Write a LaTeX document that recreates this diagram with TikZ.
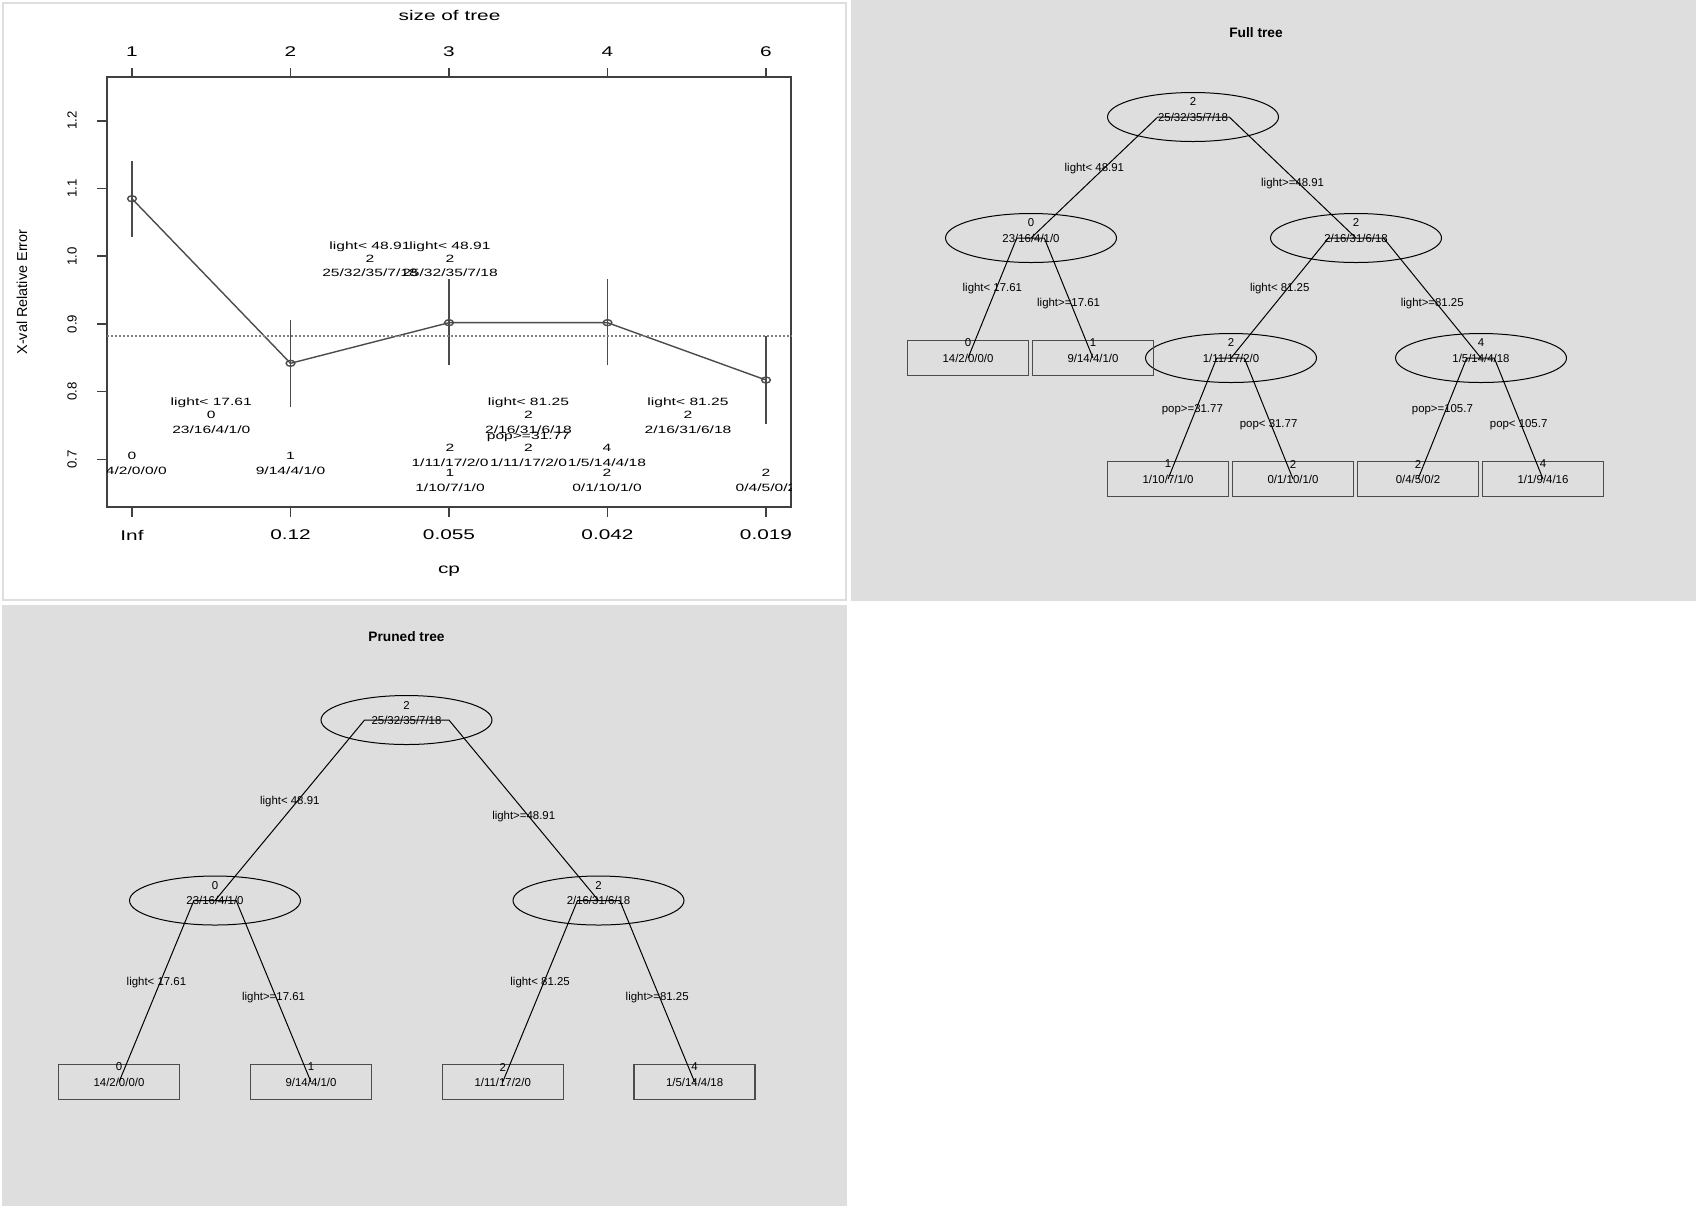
\documentclass[tikz,border=0pt]{standalone}
\usepackage{fontspec}
\setmainfont{Liberation Sans}
\newfontfamily\plotfont[FakeStretch=1.48]{Liberation Sans}
\usepackage{tikz}
\usetikzlibrary{shapes.geometric,calc}
\definecolor{panelGray}{RGB}{222,222,222}
\definecolor{axisGray}{RGB}{64,64,64}
\definecolor{curveGray}{RGB}{75,75,75}
\newcommand{\treesize}{\fontsize{6.5}{7.5}\selectfont}
\newcommand{\titlesize}{\fontsize{7.8}{9}\selectfont\bfseries}
\newcommand{\axissize}{\plotfont\fontsize{8}{9}\selectfont}
\newcommand{\cutsize}{\plotfont\fontsize{6}{7}\selectfont}
\tikzstyle{ovalnode}=[draw, ellipse, line width=0.2mm, minimum width=34.2mm, minimum height=9.8mm, inner sep=0pt, font=\treesize]
\tikzstyle{leafbox}=[draw=black!70, line width=0.25mm, minimum width=24.2mm, minimum height=6.9mm, inner sep=0pt, font=\treesize]
\tikzstyle{clslbl}=[inner sep=0pt, font=\treesize]
\tikzstyle{splitlbl}=[inner sep=0pt, font=\treesize]
\tikzstyle{branchline}=[line width=0.2mm]
\tikzstyle{paneltitle}=[inner sep=0pt, font=\titlesize]
\tikzstyle{axislbl}=[inner sep=0pt, font=\axissize]
\tikzstyle{ticklbl}=[inner sep=0pt, rotate=90, font=\fontsize{7.5}{9}\selectfont]
\tikzstyle{cuttxt}=[inner sep=0pt, font=\cutsize]
\tikzstyle{plotframe}=[draw=axisGray, line width=0.45mm]
\tikzstyle{tickline}=[axisGray, line width=0.3mm]
\tikzstyle{cvline}=[curveGray, line width=0.28mm]
\tikzstyle{errbar}=[curveGray, line width=0.32mm]
\tikzstyle{seline}=[gray, line width=0.25mm, dash pattern=on 0.3mm off 0.5mm]

% rpart branch: left son, up to parent level, across, down to right son
\newcommand{\rpbranch}[5]{%
  \path ($(#2)!0.39!(#3)$) coordinate (#1a)
        ($(#3)!0.39!(#2)$) coordinate (#1b);
  \draw[branchline] (#2.center) -- (#1a |- #1.center)
      node[midway, splitlbl, yshift=1.84mm] {#4}
    -- (#1b |- #1.center) -- (#3.center)
      node[midway, splitlbl, yshift=-1.18mm] {#5};
}

\begin{document}
\begin{tikzpicture}[x=0.2mm, y=-0.2mm]
  \useasboundingbox (0,0) rectangle (1698,1206);

  % Paineis
  \fill[panelGray] (851,0) rectangle (1696,600.7);
  \fill[panelGray] (2,604.7) rectangle (846.7,1206);
  \draw[panelGray, line width=0.4mm] (3,3) rectangle (845.7,599.7);

  % cp plot
  \node[axislbl] (cptitle) at (449.5,15.5) {size of tree};
  \node[axislbl] (cpxlab) at (449,570.7) {cp};
  \node[ticklbl, font=\fontsize{8.2}{9}\selectfont] (cpylab) at (22,292) {X-val Relative Error};
  \draw[plotframe] (107.3,77.3) rectangle (791.3,507.3);

  \begin{scope}[shift={(132,933.2)}, x=31.7mm, y=135.4mm]
    \foreach \szv/\cpv [count=\i from 0] in {1/Inf,2/0.12,3/0.055,4/0.042,6/0.019} {
      \draw[tickline] (\i,1.2643) -- ++(0,1.8mm);
      \draw[tickline] (\i,0.629) -- ++(0,-1.9mm);
      \node[axislbl, yshift=5.12mm] (sz\i) at (\i,1.2643) {\szv};
      \node[axislbl, yshift=-5.54mm] (cp\i) at (\i,0.629) {\cpv};
    }
    \foreach \v [count=\k] in {0.7,0.8,0.9,1.0,1.1,1.2} {
      \draw[tickline] (-0.156,\v) -- ++(-2mm,0);
      \node[ticklbl] (yt\k) at (-0.3785,\v) {\v};
    }
    % xerror com barras de +/- 1 xstd
    \draw[cvline] (0,1.0849) -- (1,0.8418) -- (2,0.9018) -- (3,0.9018) -- (4,0.8171);
    \foreach \i/\m/\lo/\hi in {0/1.0849/1.0288/1.1411, 1/0.8418/0.7768/0.9058,
        2/0.9018/0.8393/0.9659, 3/0.9018/0.8393/0.9659, 4/0.8171/0.7521/0.8821} {
      \draw[errbar] (\i,\lo) -- (\i,\hi);
      \draw[cvline] (\i,\m) ellipse [x radius=0.88mm, y radius=0.6mm];
    }
    \draw[seline] (-0.156,0.8821) -- (4.16,0.8821);
  \end{scope}

  % texto da arvore por cima do plot
  \begin{scope}
    \clip (107.3,77.3) rectangle (791.3,507.3);
    \foreach \t/\x/\y [count=\k] in {
        {light< 48.91}/370/246.7, {light< 48.91}/450/246.7,
        2/370/259, 2/450/259,
        {25/32/35/7/18}/370/272.7, {25/32/35/7/18}/450/272.7,
        {light< 17.61}/211.3/402.7, {light< 81.25}/528.5/402.7, {light< 81.25}/688/402.7,
        0/211.3/415, 2/528.5/415, 2/688/415,
        {23/16/4/1/0}/211.3/429.3, {2/16/31/6/18}/528.5/429.3, {2/16/31/6/18}/688/429.3,
        {pop>=31.77}/528.5/436.7,
        2/450/447.7, 2/528.5/447.7, 4/607/447.7,
        0/132/455.7, 1/290.5/455.7,
        {1/11/17/2/0}/450/462.3, {1/11/17/2/0}/528.5/462.3, {1/5/14/4/18}/607/462.3,
        {14/2/0/0/0}/132/470.7, {9/14/4/1/0}/290.5/470.7,
        1/450/473.3, 2/607/473.3, 2/766/473.3,
        {1/10/7/1/0}/450/487.3, {0/1/10/1/0}/607/487.3, {0/4/5/0/2}/766/487.3} {
      \node[cuttxt] (cut\k) at (\x,\y) {\t};
    }
  \end{scope}

  % Full tree
  \node[paneltitle] (fttitle) at (1256,33) {Full tree};
  \foreach \nm/\x/\y/\cls/\cnt in {ft1/1193/117/2/{25/32/35/7/18},
      ft2/1031/238/0/{23/16/4/1/0}, ft3/1356/238/2/{2/16/31/6/18},
      ft6/1231/358/2/{1/11/17/2/0}, ft7/1481/358/4/{1/5/14/4/18}} {
    \node[ovalnode] (\nm) at (\x,\y) {\cnt};
    \node[clslbl] (cls\nm) at (\x,\y-15) {\cls};
  }
  \foreach \nm/\x/\y/\cls/\cnt in {ft4/968/358/0/{14/2/0/0/0},
      ft5/1093/358/1/{9/14/4/1/0}, ft12/1168/479/1/{1/10/7/1/0},
      ft13/1293/479/2/{0/1/10/1/0}, ft14/1418/479/2/{0/4/5/0/2},
      ft15/1543/479/4/{1/1/9/4/16}} {
    \node[leafbox] (\nm) at (\x,\y) {\cnt};
    \node[clslbl] (cls\nm) at (\x,\y-15) {\cls};
  }
  \rpbranch{ft1}{ft2}{ft3}{light< 48.91}{light>=48.91}
  \rpbranch{ft2}{ft4}{ft5}{light< 17.61}{light>=17.61}
  \rpbranch{ft3}{ft6}{ft7}{light< 81.25}{light>=81.25}
  \rpbranch{ft6}{ft12}{ft13}{pop>=31.77}{pop< 31.77}
  \rpbranch{ft7}{ft14}{ft15}{pop>=105.7}{pop< 105.7}

  % Pruned tree
  \node[paneltitle] (pttitle) at (406.5,636.7) {Pruned tree};
  \foreach \nm/\x/\y/\cls/\cnt in {pt1/406.5/720/2/{25/32/35/7/18},
      pt2/215/900.5/0/{23/16/4/1/0}, pt3/598.5/900.5/2/{2/16/31/6/18}} {
    \node[ovalnode] (\nm) at (\x,\y) {\cnt};
    \node[clslbl] (cls\nm) at (\x,\y-15) {\cls};
  }
  \foreach \nm/\x/\y/\cls/\cnt in {pt4/119/1082/0/{14/2/0/0/0},
      pt5/311/1082/1/{9/14/4/1/0}, pt6/502.7/1082/2/{1/11/17/2/0},
      pt7/694.6/1082/4/{1/5/14/4/18}} {
    \node[leafbox] (\nm) at (\x,\y) {\cnt};
    \node[clslbl] (cls\nm) at (\x,\y-15) {\cls};
  }
  \rpbranch{pt1}{pt2}{pt3}{light< 48.91}{light>=48.91}
  \rpbranch{pt2}{pt4}{pt5}{light< 17.61}{light>=17.61}
  \rpbranch{pt3}{pt6}{pt7}{light< 81.25}{light>=81.25}
\end{tikzpicture}
\end{document}
